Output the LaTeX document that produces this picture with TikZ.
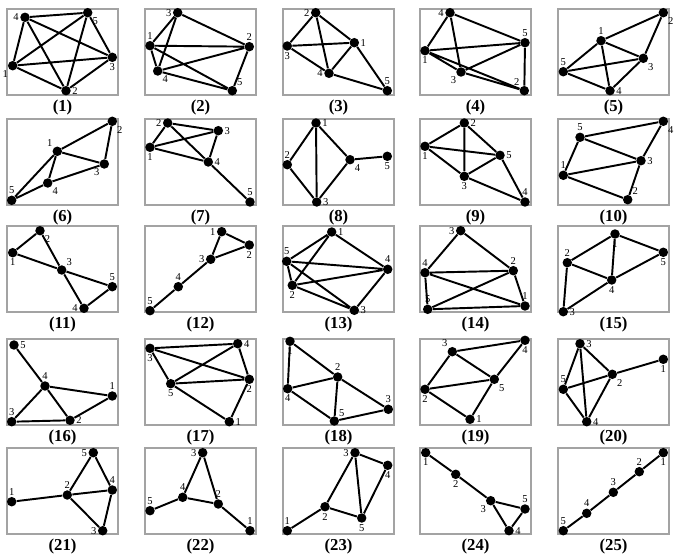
\documentclass[tikz,border=0pt]{standalone}
\usepackage{fontspec}
\setmainfont{Liberation Serif}
\usepackage{tikz}
\usetikzlibrary{positioning}
\definecolor{FrameGray}{HTML}{A3A3A3}

\newcommand{\panelframe}[1]{%
  \draw[panelbox] (0,0) rectangle (111,86);
  \node[captxt] (cap) at (55.5,98) {(#1)};}

\begin{document}
\begin{tikzpicture}[
  x=0.02cm, y=-0.02cm,
  vtx/.style={circle, fill=black, inner sep=0pt, minimum size=5.4pt},
  lnk/.style={line width=1.1pt},
  panelbox/.style={draw=FrameGray, line width=0.6pt},
  captxt/.style={font=\fontsize{9.5}{10}\selectfont\bfseries, inner sep=0pt},
  every label/.style={font=\fontsize{6}{6}\selectfont, inner sep=0.5pt},
  label distance=0pt
]
  \useasboundingbox (0,0) rectangle (675,560);

  % row 1
  \begin{scope}[shift={(7,9)}, name prefix=p1-]
    \panelframe{1}
    \node[vtx, label=below left:1] (v1) at (5.7,56.7) {};
    \node[vtx, label=right:2] (v2) at (59,81.7) {};
    \node[vtx, label=below:3] (v3) at (105.3,48.3) {};
    \node[vtx, label=left:4] (v4) at (18,8.3) {};
    \node[vtx, label=below right:5] (v5) at (80.7,3.7) {};
    \draw[lnk] (v1) -- (v2) (v1) -- (v3) (v1) -- (v4) (v1) -- (v5) (v2) -- (v3)
      (v2) -- (v4) (v2) -- (v5) (v3) -- (v4) (v3) -- (v5) (v4) -- (v5);
  \end{scope}

  \begin{scope}[shift={(145,9)}, name prefix=p2-]
    \panelframe{2}
    \node[vtx, label=above:1] (v1) at (5,36.7) {};
    \node[vtx, label=above:2] (v2) at (104.3,37.7) {};
    \node[vtx, label=left:3] (v3) at (32.7,3.7) {};
    \node[vtx, label=below right:4] (v4) at (12.7,62) {};
    \node[vtx, label=above right:5] (v5) at (87.3,81.7) {};
    \draw[lnk] (v3) -- (v1) (v3) -- (v4) (v3) -- (v2) (v1) -- (v2) (v1) -- (v4)
      (v1) -- (v5) (v4) -- (v2) (v4) -- (v5) (v2) -- (v5);
  \end{scope}

  \begin{scope}[shift={(283,9)}, name prefix=p3-]
    \panelframe{3}
    \node[vtx, label=right:1] (v1) at (71.3,33.7) {};
    \node[vtx, label=left:2] (v2) at (32.7,3.7) {};
    \node[vtx, label=below:3] (v3) at (4.3,37) {};
    \node[vtx, label=left:4] (v4) at (46,64.3) {};
    \node[vtx, label=above:5] (v5) at (104.3,81.7) {};
    \draw[lnk] (v2) -- (v3) (v2) -- (v1) (v2) -- (v4) (v3) -- (v1) (v3) -- (v4)
      (v1) -- (v4) (v1) -- (v5) (v4) -- (v5);
  \end{scope}

  \begin{scope}[shift={(420,9)}, name prefix=p4-]
    \panelframe{4}
    \node[vtx, label=below:1] (v1) at (5,41.7) {};
    \node[vtx, label=above left:2] (v2) at (104.3,81.7) {};
    \node[vtx, label=below left:3] (v3) at (41,63) {};
    \node[vtx, label=left:4] (v4) at (30,3.7) {};
    \node[vtx, label=above:5] (v5) at (105,33.7) {};
    \draw[lnk] (v4) -- (v1) (v4) -- (v3) (v4) -- (v5) (v1) -- (v5) (v1) -- (v3)
      (v1) -- (v2) (v3) -- (v5) (v3) -- (v2) (v5) -- (v2);
  \end{scope}

  \begin{scope}[shift={(558,9)}, name prefix=p5-]
    \panelframe{5}
    \node[vtx, label=above:1] (v1) at (43,31.7) {};
    \node[vtx, label=below right:2] (v2) at (105.3,3.7) {};
    \node[vtx, label=below right:3] (v3) at (85.3,49.3) {};
    \node[vtx, label=right:4] (v4) at (52,81.7) {};
    \node[vtx, label=above:5] (v5) at (5.3,62.7) {};
    \draw[lnk] (v2) -- (v1) (v2) -- (v3) (v1) -- (v3) (v1) -- (v5) (v1) -- (v4)
      (v5) -- (v3) (v5) -- (v4) (v3) -- (v4);
  \end{scope}

  % row 2
  \begin{scope}[shift={(7,119)}, name prefix=p6-]
    \panelframe{6}
    \node[vtx, label=above left:1] (v1) at (50.3,32.3) {};
    \node[vtx, label=below right:2] (v2) at (105.3,2.3) {};
    \node[vtx, label=below left:3] (v3) at (97.3,45) {};
    \node[vtx, label=below right:4] (v4) at (40.7,64) {};
    \node[vtx, label=above:5] (v5) at (4.7,81.3) {};
    \draw[lnk] (v2) -- (v1) (v2) -- (v3) (v1) -- (v3) (v1) -- (v5) (v1) -- (v4)
      (v3) -- (v4) (v4) -- (v5);
  \end{scope}

  \begin{scope}[shift={(145,119)}, name prefix=p7-]
    \panelframe{7}
    \node[vtx, label=below:1] (v1) at (5,28.3) {};
    \node[vtx, label=left:2] (v2) at (22.7,4) {};
    \node[vtx, label=right:3] (v3) at (73.3,11.7) {};
    \node[vtx, label=right:4] (v4) at (63.3,43) {};
    \node[vtx, label=above:5] (v5) at (105,83) {};
    \draw[lnk] (v2) -- (v3) (v2) -- (v1) (v2) -- (v4) (v1) -- (v3) (v1) -- (v4)
      (v3) -- (v4) (v4) -- (v5);
  \end{scope}

  \begin{scope}[shift={(283,119)}, name prefix=p8-]
    \panelframe{8}
    \node[vtx, label=right:1] (v1) at (33,4) {};
    \node[vtx, label=above:2] (v2) at (4.3,45.7) {};
    \node[vtx, label=right:3] (v3) at (33.7,83) {};
    \node[vtx, label=below right:4] (v4) at (67,40.7) {};
    \node[vtx, label=below:5] (v5) at (104.3,37.3) {};
    \draw[lnk] (v1) -- (v2) (v1) -- (v3) (v1) -- (v4) (v2) -- (v3) (v3) -- (v4)
      (v4) -- (v5);
  \end{scope}

  \begin{scope}[shift={(420,119)}, name prefix=p9-]
    \panelframe{9}
    \node[vtx, label=below:1] (v1) at (5,27.3) {};
    \node[vtx, label=right:2] (v2) at (44.3,4) {};
    \node[vtx, label=below:3] (v3) at (44.3,57.3) {};
    \node[vtx, label=above:4] (v4) at (105,83) {};
    \node[vtx, label=right:5] (v5) at (80,36.3) {};
    \draw[lnk] (v2) -- (v1) (v2) -- (v3) (v2) -- (v5) (v1) -- (v5) (v1) -- (v3)
      (v3) -- (v5) (v3) -- (v4) (v5) -- (v4);
  \end{scope}

  \begin{scope}[shift={(558,119)}, name prefix=p10-]
    \panelframe{10}
    \node[vtx, label=above:1] (v1) at (5.3,56.3) {};
    \node[vtx, label=above right:2] (v2) at (69.7,80.7) {};
    \node[vtx, label=right:3] (v3) at (83,41.7) {};
    \node[vtx, label=below right:4] (v4) at (105.3,2.3) {};
    \node[vtx, label=above:5] (v5) at (22,18.3) {};
    \draw[lnk] (v4) -- (v5) (v4) -- (v3) (v5) -- (v1) (v5) -- (v3) (v1) -- (v3)
      (v1) -- (v2) (v3) -- (v2);
  \end{scope}

  % row 3
  \begin{scope}[shift={(7,226)}, name prefix=p11-]
    \panelframe{11}
    \node[vtx, label=below:1] (v1) at (5.7,26.7) {};
    \node[vtx, label=below right:2] (v2) at (33,4.7) {};
    \node[vtx, label=above right:3] (v3) at (54.7,44) {};
    \node[vtx, label=left:4] (v4) at (77,82.3) {};
    \node[vtx, label=above:5] (v5) at (105.3,60.7) {};
    \draw[lnk] (v1) -- (v2) (v2) -- (v3) (v1) -- (v3) (v3) -- (v5) (v3) -- (v4)
      (v4) -- (v5);
  \end{scope}

  \begin{scope}[shift={(145,226)}, name prefix=p12-]
    \panelframe{12}
    \node[vtx, label=left:1] (v1) at (76.7,5.7) {};
    \node[vtx, label=below:2] (v2) at (104.3,19) {};
    \node[vtx, label=left:3] (v3) at (65.7,33.3) {};
    \node[vtx, label=above:4] (v4) at (33.3,60.7) {};
    \node[vtx, label=above:5] (v5) at (5,84.7) {};
    \draw[lnk] (v1) -- (v2) (v1) -- (v3) (v2) -- (v3) (v3) -- (v4) (v4) -- (v5);
  \end{scope}

  \begin{scope}[shift={(283,226)}, name prefix=p13-]
    \panelframe{13}
    \node[vtx, label=right:1] (v1) at (48.7,6) {};
    \node[vtx, label=below:2] (v2) at (9.3,59.3) {};
    \node[vtx, label=right:3] (v3) at (71.3,84.3) {};
    \node[vtx, label=above:4] (v4) at (104.7,43.3) {};
    \node[vtx, label=above:5] (v5) at (3.7,35.3) {};
    \draw[lnk] (v1) -- (v5) (v1) -- (v2) (v1) -- (v4) (v5) -- (v4) (v5) -- (v2)
      (v5) -- (v3) (v2) -- (v4) (v2) -- (v3) (v4) -- (v3);
  \end{scope}

  \begin{scope}[shift={(420,226)}, name prefix=p14-]
    \panelframe{14}
    \node[vtx, label=above:1] (v1) at (105,80) {};
    \node[vtx, label=above:2] (v2) at (93.3,44.7) {};
    \node[vtx, label=left:3] (v3) at (40.7,4.7) {};
    \node[vtx, label=above:4] (v4) at (5,46.7) {};
    \node[vtx, label=above:5] (v5) at (7.7,83.3) {};
    \draw[lnk] (v3) -- (v4) (v3) -- (v2) (v4) -- (v2) (v4) -- (v5) (v4) -- (v1)
      (v5) -- (v2) (v5) -- (v1) (v2) -- (v1);
  \end{scope}

  \begin{scope}[shift={(558,226)}, name prefix=p15-]
    \panelframe{15}
    \node[vtx, label=below:1] (v1) at (57,8) {};
    \node[vtx, label=above:2] (v2) at (9.3,36.7) {};
    \node[vtx, label=right:3] (v3) at (5.3,85.7) {};
    \node[vtx, label=below:4] (v4) at (53.7,54) {};
    \node[vtx, label=below:5] (v5) at (105.3,26.3) {};
    \draw[lnk] (v1) -- (v2) (v1) -- (v5) (v1) -- (v4) (v2) -- (v4) (v2) -- (v3)
      (v4) -- (v5) (v4) -- (v3);
  \end{scope}

  % row 4
  \begin{scope}[shift={(7,339)}, name prefix=p16-]
    \panelframe{16}
    \node[vtx, label=above:1] (v1) at (105.3,57) {};
    \node[vtx, label=right:2] (v2) at (63,81.3) {};
    \node[vtx, label=above:3] (v3) at (4.7,82.7) {};
    \node[vtx, label=above:4] (v4) at (38,47) {};
    \node[vtx, label=right:5] (v5) at (7,6) {};
    \draw[lnk] (v5) -- (v4) (v4) -- (v1) (v4) -- (v3) (v4) -- (v2) (v1) -- (v2)
      (v3) -- (v2);
  \end{scope}

  \begin{scope}[shift={(145,339)}, name prefix=p17-]
    \panelframe{17}
    \node[vtx, label=right:1] (v1) at (84.3,82.7) {};
    \node[vtx, label=below:2] (v2) at (104.3,40.3) {};
    \node[vtx, label=below:3] (v3) at (5,9.3) {};
    \node[vtx, label=right:4] (v4) at (92.7,4.7) {};
    \node[vtx, label=below:5] (v5) at (25.7,44.7) {};
    \draw[lnk] (v3) -- (v4) (v3) -- (v2) (v3) -- (v5) (v4) -- (v5) (v4) -- (v2)
      (v5) -- (v2) (v5) -- (v1) (v2) -- (v1);
  \end{scope}

  \begin{scope}[shift={(283,339)}, name prefix=p18-]
    \panelframe{18}
    \node[vtx, label=below:1] (v1) at (7,2.3) {};
    \node[vtx, label=above:2] (v2) at (54.7,38) {};
    \node[vtx, label=above:3] (v3) at (105.3,70.3) {};
    \node[vtx, label=below:4] (v4) at (4.7,49.7) {};
    \node[vtx, label=above right:5] (v5) at (51.3,82) {};
    \draw[lnk] (v1) -- (v4) (v1) -- (v2) (v2) -- (v4) (v2) -- (v5) (v2) -- (v3)
      (v4) -- (v5) (v5) -- (v3);
  \end{scope}

  \begin{scope}[shift={(420,339)}, name prefix=p19-]
    \panelframe{19}
    \node[vtx, label=right:1] (v1) at (50,80.3) {};
    \node[vtx, label=below:2] (v2) at (5,50.3) {};
    \node[vtx, label=above left:3] (v3) at (32.3,12.7) {};
    \node[vtx, label=below:4] (v4) at (105,1.3) {};
    \node[vtx, label=below right:5] (v5) at (74.3,40.3) {};
    \draw[lnk] (v4) -- (v3) (v4) -- (v5) (v3) -- (v2) (v3) -- (v5) (v2) -- (v5)
      (v2) -- (v1) (v5) -- (v1);
  \end{scope}

  \begin{scope}[shift={(558,339)}, name prefix=p20-]
    \panelframe{20}
    \node[vtx, label=below:1] (v1) at (105.3,20.3) {};
    \node[vtx, label=below right:2] (v2) at (54.3,35.3) {};
    \node[vtx, label=right:3] (v3) at (22,4.7) {};
    \node[vtx, label=right:4] (v4) at (28.7,82.7) {};
    \node[vtx, label=above:5] (v5) at (5.3,50.3) {};
    \draw[lnk] (v3) -- (v5) (v3) -- (v4) (v3) -- (v2) (v2) -- (v1) (v2) -- (v5)
      (v2) -- (v4) (v5) -- (v4);
  \end{scope}

  % row 5
  \begin{scope}[shift={(7,448)}, name prefix=p21-]
    \panelframe{21}
    \node[vtx, label=above:1] (v1) at (4.7,53.7) {};
    \node[vtx, label=above:2] (v2) at (60.3,47) {};
    \node[vtx, label=left:3] (v3) at (95.7,82.7) {};
    \node[vtx, label=above:4] (v4) at (105.3,42) {};
    \node[vtx, label=left:5] (v5) at (86.3,4.7) {};
    \draw[lnk] (v5) -- (v2) (v5) -- (v4) (v2) -- (v4) (v2) -- (v1) (v2) -- (v3)
      (v4) -- (v3);
  \end{scope}

  \begin{scope}[shift={(145,448)}, name prefix=p22-]
    \panelframe{22}
    \node[vtx, label=above:1] (v1) at (105,82.7) {};
    \node[vtx, label=above:2] (v2) at (73.3,56) {};
    \node[vtx, label=left:3] (v3) at (57.7,4.7) {};
    \node[vtx, label=above:4] (v4) at (37.7,49.3) {};
    \node[vtx, label=above:5] (v5) at (5,62.7) {};
    \draw[lnk] (v3) -- (v4) (v3) -- (v2) (v4) -- (v2) (v4) -- (v5) (v2) -- (v1);
  \end{scope}

  \begin{scope}[shift={(283,448)}, name prefix=p23-]
    \panelframe{23}
    \node[vtx, label=above:1] (v1) at (4.3,82.7) {};
    \node[vtx, label=below:2] (v2) at (42,58.7) {};
    \node[vtx, label=left:3] (v3) at (72,4.7) {};
    \node[vtx, label=below:4] (v4) at (104.7,17.3) {};
    \node[vtx, label=below:5] (v5) at (78.7,70) {};
    \draw[lnk] (v1) -- (v2) (v2) -- (v3) (v2) -- (v5) (v3) -- (v5) (v3) -- (v4)
      (v4) -- (v5);
  \end{scope}

  \begin{scope}[shift={(420,448)}, name prefix=p24-]
    \panelframe{24}
    \node[vtx, label=below:1] (v1) at (5.7,4.7) {};
    \node[vtx, label=below:2] (v2) at (35.7,26.3) {};
    \node[vtx, label=below left:3] (v3) at (70.7,52.7) {};
    \node[vtx, label=right:4] (v4) at (89,82.7) {};
    \node[vtx, label=above:5] (v5) at (105,61) {};
    \draw[lnk] (v1) -- (v2) (v2) -- (v3) (v3) -- (v5) (v3) -- (v4) (v5) -- (v4);
  \end{scope}

  \begin{scope}[shift={(558,448)}, name prefix=p25-]
    \panelframe{25}
    \node[vtx, label=below:1] (v1) at (105.3,4.7) {};
    \node[vtx, label=above:2] (v2) at (81.3,23.7) {};
    \node[vtx, label=above:3] (v3) at (55.3,44.3) {};
    \node[vtx, label=above:4] (v4) at (28.7,65.3) {};
    \node[vtx, label=above:5] (v5) at (5.3,82.7) {};
    \draw[lnk] (v1) -- (v2) (v2) -- (v3) (v3) -- (v4) (v4) -- (v5);
  \end{scope}
\end{tikzpicture}
\end{document}
